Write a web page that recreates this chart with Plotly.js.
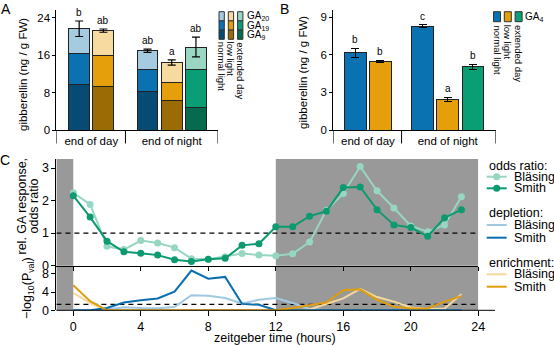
<!DOCTYPE html>
<html><head><meta charset="utf-8">
<script src="https://cdn.plot.ly/plotly-3.0.1.min.js"></script>
<style>html,body{margin:0;padding:0;background:#fff}#chart{width:554px;height:346px}</style>
</head><body><div id="chart"></div>
<script>
// ---------- data ----------
const groups = ['end of day', 'end of night'];
const barGroup = [0, 0, 1, 1, 1];
const barCond = ['normal light', 'low light', 'normal light', 'low light', 'extended day'];
const conditions = ['normal light', 'low light', 'extended day'];
// panel A (ng / g FW)
const ga9  = [9.8, 9.2, 8.2, 6.3, 4.8];
const ga19 = [6.5, 6.7, 4.7, 3.8, 8.1];
const ga20 = [5.3, 5.3, 4.0, 4.3, 4.8];
const gaErr = [1.65, 0.35, 0.35, 0.55, 2.1];
const gaLetters = ['b', 'ab', 'ab', 'a', 'ab'];
// panel B
const ga4 = [6.17, 5.46, 8.3, 2.45, 5.06];
const ga4Err = [0.35, 0.1, 0.12, 0.17, 0.2];
const ga4Letters = ['b', 'b', 'c', 'a', 'b'];
// panel C
const hours = [0,1,2,3,4,5,6,7,8,9,10,11,12,13,14,15,16,17,18,19,20,21,22,23];
const oddsBlasing = [2.24,1.88,0.59,0.49,0.77,0.69,0.55,0.21,0.19,0.27,0.37,0.32,0.30,0.36,0.72,1.70,2.22,3.05,2.30,1.77,1.22,1.04,1.25,2.12];
const oddsSmith   = [2.15,1.49,0.75,0.42,0.38,0.32,0.18,0.12,0.19,0.22,0.62,0.67,1.19,1.19,1.52,1.67,2.40,2.42,1.72,1.25,1.17,0.90,1.47,1.72];
const deplBlasing = [0,0,0.2,0.65,0.5,0.45,0.7,3.3,3.2,2.7,1.5,2.3,2.7,1.6,0.3,0,0,0,0,0,0,0,0,0];
const deplSmith   = [0,0,0.5,1.7,2.2,2.6,4.1,8.7,6.9,7.3,1.4,1.2,0,0,0,0,0,0,0,0,0.1,0.1,0,0];
const enrBlasing  = [3.8,1.6,0,0,0,0,0,0,0,0,0,0,0,0,0.2,1.4,2.6,4.7,2.9,1.9,0.6,0.3,0.4,3.5];
const enrSmith    = [5.5,2.0,0,0,0,0,0,0,0,0,0,0,0,0.5,1.1,1.7,4.4,4.6,2.3,0.8,0.4,0.4,1.9,3.1];

// ---------- styles ----------
const W = 554, H = 346;
const FONT = 'Liberation Sans, Arial, Helvetica, sans-serif';
const PX = x => x / W, PY = y => 1 - y / H;
const segColors = {
  'normal light': ['#a5cbe1', '#0a72b0', '#054b73'],
  'low light':    ['#f6da9f', '#e49f0a', '#9b6c05'],
  'extended day': ['#9bd6c3', '#0a9e74', '#076a4e']
};
const mainColors = {'normal light': '#0a72b0', 'low light': '#e49f0a', 'extended day': '#0a9e74'};
const C = {oddsB: '#97d6c2', oddsS: '#0d9a70', deplB: '#a0c8e0', deplS: '#0a6fae', enrB: '#f4d89e', enrS: '#e09d0e'};
const GREY = '#999999';

function positions(starts) {
  const cnt = [0, 0]; return barGroup.map(g => starts[g] + (cnt[g]++));
}
const posA = positions([0, 2.82]);
const posB = positions([0, 2.68]);
const rangeA = [-0.94, 5.73], sepA = 1.91;
const rangeB = [-0.88, 5.59], sepB = 1.84;
const centersA = [0.5, 3.82], centersB = [0.5, 3.68];

const totals = ga9.map((v, i) => v + ga19[i] + ga20[i]);
const data = [];
[[ga9, 2], [ga19, 1], [ga20, 0]].forEach(([arr, k]) => {
  data.push({type: 'bar', x: posA, y: arr, width: 0.86, xaxis: 'x', yaxis: 'y',
    marker: {color: barCond.map(c => segColors[c][k]), line: {color: '#222', width: 1}},
    showlegend: false, hoverinfo: 'skip'});
});
data.push({type: 'scatter', mode: 'markers', x: posA, y: totals, xaxis: 'x', yaxis: 'y',
  marker: {size: 1, opacity: 0}, showlegend: false, hoverinfo: 'skip',
  error_y: {type: 'data', array: gaErr, color: '#000', thickness: 1.2, width: 4}});
data.push({type: 'bar', x: posB, y: ga4, width: 0.86, xaxis: 'x2', yaxis: 'y2',
  marker: {color: barCond.map(c => mainColors[c]), line: {color: '#222', width: 1}},
  error_y: {type: 'data', array: ga4Err, color: '#000', thickness: 1.2, width: 4},
  showlegend: false, hoverinfo: 'skip'});
// C top
data.push({type: 'scatter', mode: 'lines+markers', x: hours, y: oddsBlasing, xaxis: 'x3', yaxis: 'y3',
  line: {color: C.oddsB, width: 2}, marker: {color: C.oddsB, size: 7}, showlegend: false, cliponaxis: false});
data.push({type: 'scatter', mode: 'lines+markers', x: hours, y: oddsSmith, xaxis: 'x3', yaxis: 'y3',
  line: {color: C.oddsS, width: 2}, marker: {color: C.oddsS, size: 7}, showlegend: false, cliponaxis: false});
// C bottom
[[deplBlasing, C.deplB], [enrBlasing, C.enrB], [deplSmith, C.deplS], [enrSmith, C.enrS]].forEach(([arr, col]) => {
  data.push({type: 'scatter', mode: 'lines', x: hours, y: arr, xaxis: 'x4', yaxis: 'y4',
    line: {color: col, width: 2}, showlegend: false, cliponaxis: false});
});

// ---------- layout ----------
const axBase = {showgrid: false, zeroline: false, showline: true, linecolor: '#000', linewidth: 1,
  ticks: 'outside', ticklen: 3, tickcolor: '#000', tickwidth: 1, fixedrange: true};
const fAB = {family: FONT, size: 11.5, color: '#000'};
const fC = {family: FONT, size: 12.5, color: '#000'};

const layout = {
  width: W, height: H, margin: {l: 0, r: 0, t: 0, b: 0},
  paper_bgcolor: '#fff', plot_bgcolor: 'rgba(0,0,0,0)', barmode: 'stack',
  font: {family: FONT, color: '#000'}, showlegend: false,
  xaxis: Object.assign({}, axBase, {domain: [PX(56.4), PX(218)], range: rangeA, tickvals: centersA,
    ticktext: groups, ticks: '', tickfont: fAB, anchor: 'y'}),
  yaxis: Object.assign({}, axBase, {domain: [PY(130), PY(10)], range: [0, 25.6], tickvals: [0, 8, 16, 24],
    tickfont: fAB, anchor: 'x'}),
  xaxis2: Object.assign({}, axBase, {domain: [PX(333.3), PX(495.7)], range: rangeB, tickvals: centersB,
    ticktext: groups, ticks: '', tickfont: fAB, anchor: 'y2'}),
  yaxis2: Object.assign({}, axBase, {domain: [PY(130), PY(10)], range: [0, 9.58], tickvals: [0, 3, 6, 9],
    tickfont: fAB, anchor: 'x2'}),
  xaxis3: Object.assign({}, axBase, {domain: [PX(56.4), PX(478.3)], range: [-1, 24], tickvals: [0,4,8,12,16,20,24],
    showticklabels: false, ticklen: 4, anchor: 'y3'}),
  yaxis3: Object.assign({}, axBase, {domain: [PY(265.5), PY(159)], range: [0, 3.28], tickvals: [0, 1, 2, 3],
    ticklen: 4, tickfont: fC, anchor: 'x3'}),
  xaxis4: Object.assign({}, axBase, {domain: [PX(56.4), PX(478.3)], range: [-1, 24], tickvals: [0,4,8,12,16,20,24],
    showline: false, ticklen: 5, tickfont: fC, anchor: 'y4'}),
  yaxis4: Object.assign({}, axBase, {domain: [PY(310.3), PY(265.5)], range: [0, 9.8], tickvals: [0, 4, 8],
    ticklen: 4, tickfont: fC, anchor: 'x4'}),
  shapes: [], annotations: []
};
const S = layout.shapes, A = layout.annotations;

// grey night shading and dashed reference lines
[['x3', 'y3 domain'], ['x4', 'y4 domain']].forEach(([xr, yr]) => {
  [[-1, 0], [12, 24]].forEach(([a, b]) => S.push({type: 'rect', xref: xr, yref: yr, x0: a, x1: b, y0: 0, y1: 1,
    fillcolor: GREY, line: {width: 0}, layer: 'below'}));
});
S.push({type: 'line', xref: 'x3', yref: 'y3', x0: -1, x1: 24, y0: 1, y1: 1, line: {color: '#000', width: 1.2, dash: '5px,4px'}, layer: 'below'});
S.push({type: 'line', xref: 'x4', yref: 'y4', x0: -1, x1: 24, y0: 1.3, y1: 1.3, line: {color: '#000', width: 1.2, dash: '5px,4px'}, layer: 'below'});
// bottom axis line of C
S.push({type: 'line', xref: 'paper', yref: 'paper', x0: PX(56.4), x1: PX(495), y0: PY(310.3), y1: PY(310.3), line: {color: '#000', width: 1}});

// group separators under A and B
[[rangeA[0], sepA, rangeA[1], 'x'], [rangeB[0], sepB, rangeB[1], 'x2']].forEach(([a, b, c, xr]) => {
  [a, b, c].forEach(v => S.push({type: 'line', xref: xr, yref: 'paper', x0: v, x1: v, y0: PY(130), y1: PY(143.5),
    line: {color: '#000', width: 1}}));
});

// significance letters
posA.forEach((p, i) => A.push({xref: 'x', yref: 'y', x: p, y: totals[i] + gaErr[i], text: gaLetters[i],
  showarrow: false, yanchor: 'bottom', yshift: 1, font: {family: FONT, size: 10, color: '#000'}}));
posB.forEach((p, i) => A.push({xref: 'x2', yref: 'y2', x: p, y: ga4[i] + ga4Err[i], text: ga4Letters[i],
  showarrow: false, yanchor: 'bottom', yshift: 1, font: {family: FONT, size: 10, color: '#000'}}));

function txt(x, y, text, opt) {
  A.push(Object.assign({xref: 'paper', yref: 'paper', x: PX(x), y: PY(y), text: text, showarrow: false,
    xanchor: 'center', yanchor: 'middle', font: fAB}, opt || {}));
}
// panel letters
txt(6, 9, 'A', {font: {family: FONT, size: 14, color: '#000'}});
txt(284, 9, 'B', {font: {family: FONT, size: 14, color: '#000'}});
txt(5, 160, 'C', {font: {family: FONT, size: 14, color: '#000'}});
// axis titles
txt(23, 75, 'gibberellin (ng / g FW)', {textangle: -90});
txt(303, 73, 'gibberellin (ng / g FW)', {textangle: -90});
txt(21.5, 206, 'rel. GA response,', {textangle: -90, font: fC});
txt(33.5, 206, 'odds ratio', {textangle: -90, font: fC});
txt(28, 288, '−log<sub>10</sub>(P<sub>val</sub>)', {textangle: -90, font: fC});
txt(275, 338, 'zeitgeber time (hours)', {font: fC});

// panel A legend (swatches)
const gaNames = ['GA<sub>20</sub>', 'GA<sub>19</sub>', 'GA<sub>9</sub>'];
conditions.forEach((c, ci) => {
  const x0 = 219 + ci * 9.3;
  for (let r = 0; r < 3; r++) {
    S.push({type: 'rect', xref: 'paper', yref: 'paper', x0: PX(x0), x1: PX(x0 + 5.3),
      y0: PY(11.7 + r * 9.2), y1: PY(11.7 + (r + 1) * 9.2), fillcolor: segColors[c][r], line: {color: '#333', width: 1}});
  }
  txt(x0 + 2.65, 40, c, {textangle: 90, yanchor: 'top', font: {family: FONT, size: 9.5, color: '#000'}});
});
gaNames.forEach((g, r) => txt(245, 16.3 + r * 9.2, g, {xanchor: 'left', font: {family: FONT, size: 10, color: '#000'}}));
// panel B legend
conditions.forEach((c, ci) => {
  const x0 = 493.5 + ci * 10.8;
  S.push({type: 'rect', xref: 'paper', yref: 'paper', x0: PX(x0), x1: PX(x0 + 7), y0: PY(11.7), y1: PY(21.7),
    fillcolor: mainColors[c], line: {color: '#333', width: 1}});
  txt(x0 + 3.5, 23, c, {textangle: 90, yanchor: 'top', font: {family: FONT, size: 9.5, color: '#000'}});
});
txt(523, 16.5, 'GA<sub>4</sub>', {xanchor: 'left', font: {family: FONT, size: 10, color: '#000'}});

// panel C legend
const legItems = [
  ['odds ratio:', 165.7, [['Bläsing', 176.7, C.oddsB, true], ['Smith', 188.3, C.oddsS, true]]],
  ['depletion:', 213.3, [['Bläsing', 225, C.deplB, false], ['Smith', 237.7, C.deplS, false]]],
  ['enrichment:', 263.3, [['Bläsing', 274.3, C.enrB, false], ['Smith', 286.7, C.enrS, false]]]
];
legItems.forEach(([head, hy, items]) => {
  txt(486.5, hy, head, {xanchor: 'left', font: fC});
  items.forEach(([name, y, col, mk]) => {
    S.push({type: 'line', xref: 'paper', yref: 'paper', x0: PX(486.7), x1: PX(506.7), y0: PY(y), y1: PY(y), line: {color: col, width: 2}});
    if (mk) S.push({type: 'circle', xref: 'paper', yref: 'paper', x0: PX(493.2), x1: PX(500.2), y0: PY(y + 3.5), y1: PY(y - 3.5),
      fillcolor: col, line: {color: col, width: 0}});
    txt(511.5, y, name, {xanchor: 'left', font: fC});
  });
});

Plotly.newPlot('chart', data, layout, {staticPlot: true, displayModeBar: false});
</script>
</body></html>
